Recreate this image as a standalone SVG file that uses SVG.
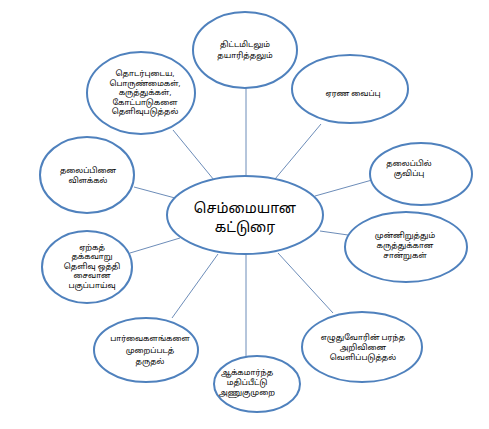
<svg xmlns="http://www.w3.org/2000/svg" width="489" height="429" viewBox="0 0 489 429">
<style>
.n{fill:#fff;stroke:#4f81bd;stroke-width:2}
.t{font-family:"Noto Sans Tamil","Lohit Tamil","Latha","Liberation Sans","Noto Sans",sans-serif;font-size:7.8px;fill:#000;text-anchor:middle}
.c{font-size:14px}
#connectors line{stroke:#5b7fb0;stroke-width:0.9}
</style>
<rect width="489" height="429" fill="#fff"/>
<g id="connectors">
<line x1="173" y1="130" x2="214" y2="180"/>
<line x1="246" y1="86" x2="246" y2="177"/>
<line x1="321" y1="124" x2="275" y2="179"/>
<line x1="134" y1="187" x2="175" y2="198"/>
<line x1="372" y1="180" x2="315" y2="196"/>
<line x1="130" y1="253" x2="180" y2="238"/>
<line x1="320" y1="231" x2="348" y2="235"/>
<line x1="218" y1="254" x2="172" y2="318"/>
<line x1="246" y1="254" x2="246" y2="358"/>
<line x1="278" y1="253" x2="333" y2="313"/>
</g>
<g id="n-top"><ellipse class="n" cx="245" cy="50" rx="52" ry="38"/>
<text class="t" x="245" y="47">திட்டமிடலும்</text><text class="t" x="245" y="58">தயாரித்தலும்</text></g>
<g id="n-upleft"><ellipse class="n" cx="141" cy="93" rx="54" ry="41"/>
<text class="t" x="145" y="76">தொடர்புடைய,</text><text class="t" x="145" y="85.5">பொருண்மைகள்,</text><text class="t" x="145" y="95">கருத்துக்கள்,</text><text class="t" x="145" y="104.5">கோட்பாடுகளை</text><text class="t" x="145" y="114">தெளிவுபடுத்தல்</text></g>
<g id="n-upright"><ellipse class="n" cx="350" cy="89" rx="58" ry="34"/>
<text class="t" x="353" y="96">ஏரண வைப்பு</text></g>
<g id="n-left"><ellipse class="n" cx="87" cy="175" rx="47" ry="38"/>
<text class="t" x="88" y="173">தலைப்பினை</text><text class="t" x="88" y="183">விளக்கல்</text></g>
<g id="n-right"><ellipse class="n" cx="421" cy="174" rx="51" ry="31"/>
<text class="t" x="409" y="166">தலைப்பில்</text><text class="t" x="409" y="176">குவிப்பு</text></g>
<g id="n-center"><ellipse class="n" cx="245" cy="215" rx="78" ry="39"/>
<text class="t c" x="245" y="213">செம்மையான</text><text class="t c" x="245" y="232">கட்டுரை</text></g>
<g id="n-lowleft"><ellipse class="n" cx="87" cy="267" rx="45" ry="36"/>
<text class="t" x="92" y="250">ஏற்கத்</text><text class="t" x="92" y="259">தக்கவாறு</text><text class="t" x="92" y="269">தெளிவு ஒத்தி</text><text class="t" x="92" y="278">சைவான</text><text class="t" x="92" y="288">பகுப்பாய்வு</text></g>
<g id="n-lowright"><ellipse class="n" cx="406" cy="247" rx="61" ry="35"/>
<text class="t" x="405" y="238">முன்னிறுத்தும்</text><text class="t" x="405" y="248">கருத்துக்கான</text><text class="t" x="405" y="258">சான்றுகள்</text></g>
<g id="n-botleft"><ellipse class="n" cx="146" cy="350" rx="52" ry="32"/>
<text class="t" x="150" y="341">பார்வைகளங்களை</text><text class="t" x="150" y="353">முறைப்படத்</text><text class="t" x="150" y="364">தருதல்</text></g>
<g id="n-bottom"><ellipse class="n" cx="257" cy="384" rx="43" ry="28"/>
<text class="t" x="247" y="375">ஆக்கமார்ந்த</text><text class="t" x="247" y="385">மதிப்பீட்டு</text><text class="t" x="247" y="395">அணுகுமுறை</text></g>
<g id="n-botright"><ellipse class="n" cx="362" cy="347" rx="60" ry="35"/>
<text class="t" x="363" y="340">எழுதுவோரின் பரந்த</text><text class="t" x="363" y="350">அறிவினை</text><text class="t" x="363" y="360">வெளிப்படுத்தல்</text></g>
</svg>
